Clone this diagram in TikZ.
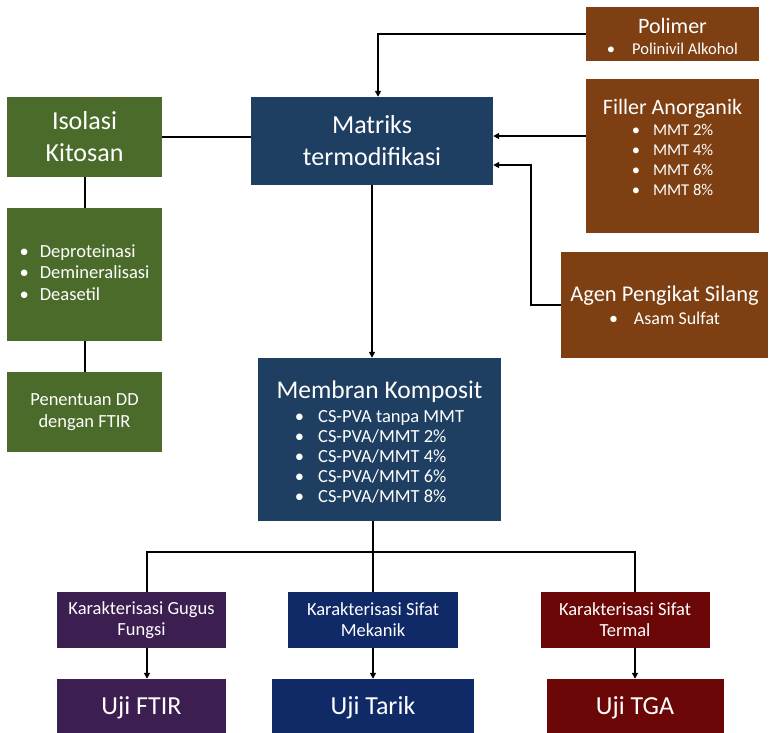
\documentclass[tikz,border=0pt]{standalone}
\usepackage{fontspec}
\setmainfont{Carlito}
\usepackage{xcolor}
\usepackage{tikz}
\usetikzlibrary{positioning, arrows.meta}
\definecolor{hijau}{HTML}{4A6B2A}
\definecolor{biru}{HTML}{1F3F62}
\definecolor{coklat}{HTML}{7E3F12}
\definecolor{ungu}{HTML}{3C1E50}
\definecolor{birutua}{HTML}{0F2A66}
\definecolor{merah}{HTML}{6B0707}
\newcommand{\Bt}[2][13pt]{\textbullet\hspace{#1}#2}
\newcommand{\Fs}[2]{\fontsize{#1}{#2}\selectfont}

\begin{document}
\begin{tikzpicture}[x=1pt, y=-1pt,
    kotak/.style={fill=#1, text=white, align=center, inner sep=0pt},
    garis/.style={line width=2pt},
    panah/.style={line width=2pt, -{Triangle[length=6pt,width=6pt]}}]
        \useasboundingbox (0,0) rectangle (770,732);
        \clip (0,0) rectangle (770,732);
        % Kotak hijau kiri
        \node[kotak=hijau, minimum width=155pt, minimum height=80pt, font=\Fs{26}{32}] (isolasi) at (84.5,137) {Isolasi\\Kitosan};
        \node[kotak=hijau, minimum width=155pt, minimum height=133pt, font=\Fs{18.5}{21.5}] (proses) at (84.5,274.5) {\begin{tabular}{@{}l@{}}\Bt[11pt]{Deproteinasi}\\ \Bt[11pt]{Demineralisasi}\\ \Bt[11pt]{Deasetil}\end{tabular}};
        \node[kotak=hijau, minimum width=155pt, minimum height=80pt, font=\Fs{18.5}{21.5}] (penentuan) at (84.5,412) {Penentuan DD\\dengan FTIR};
        % Matriks di tengah
        \node[kotak=biru, minimum width=242pt, minimum height=88pt, font=\Fs{26}{32}] (matriks) at (372,141) {Matriks\\termodifikasi};
        % Kotak coklat kanan
        \node[kotak=coklat, minimum width=173pt, minimum height=54pt, font=\Fs{22}{21}] (polimer) at (672.5,34) {\rule{0pt}{21pt}Polimer\\ \Fs{16.5}{21}\Bt[17pt]{Polinivil Alkohol}};
        \node[kotak=coklat, minimum width=173pt, minimum height=154pt, font=\Fs{22}{21}] (filler) at (672.5,156) {Filler Anorganik\\ \Fs{16.5}{20}\begin{tabular}[t]{@{}l@{}}\Bt{MMT 2\%}\\ \Bt{MMT 4\%}\\ \Bt{MMT 6\%}\\ \Bt{MMT 8\%}\rule[-18pt]{0pt}{1pt}\end{tabular}};
        \node[kotak=coklat, minimum width=207pt, minimum height=106pt, font=\Fs{22.5}{23}] (agen) at (664.5,305) {Agen Pengikat Silang\\ \Fs{18}{23}\Bt[16pt]{Asam Sulfat}};
        % Membran komposit
        \node[kotak=biru, minimum width=243pt, minimum height=163pt, font=\Fs{25.5}{24}] (membran) at (379.5,439.5) {\rule{0pt}{27pt}Membran Komposit\\ \Fs{18.5}{20}\begin{tabular}[t]{@{}l@{}}\Bt[14pt]{CS-PVA tanpa MMT}\\ \Bt[14pt]{CS-PVA/MMT 2\%}\\ \Bt[14pt]{CS-PVA/MMT 4\%}\\ \Bt[14pt]{CS-PVA/MMT 6\%}\\ \Bt[14pt]{CS-PVA/MMT 8\%}\end{tabular}};
        % Karakterisasi
        \node[kotak=ungu, minimum width=169pt, minimum height=56pt, font=\Fs{18.5}{21}] (gugus) at (141.5,620) {Karakterisasi Gugus\\Fungsi};
        \node[kotak=birutua, minimum width=170pt, minimum height=56pt, font=\Fs{18.5}{21}] (mekanik) at (373,620) {Karakterisasi Sifat\\Mekanik};
        \node[kotak=merah, minimum width=169pt, minimum height=56pt, font=\Fs{18.5}{21}] (termal) at (625,620) {Karakterisasi Sifat\\Termal};
        % Uji
        \node[kotak=ungu, minimum width=169pt, minimum height=58pt, font=\Fs{26}{28}] (ftir) at (141.5,708) {Uji FTIR};
        \node[kotak=birutua, minimum width=202pt, minimum height=58pt, font=\Fs{26}{28}] (tarik) at (373,708) {Uji Tarik};
        \node[kotak=merah, minimum width=177pt, minimum height=58pt, font=\Fs{26}{28}] (tga) at (635,708) {Uji TGA};
        % Garis kiri
        \draw[garis] (isolasi.east) -- (isolasi.east -| matriks.west);
        \draw[garis] (isolasi) -- (proses);
        \draw[garis] (proses) -- (penentuan);
        % Panah ke matriks
        \draw[panah] (polimer.west) -| ([xshift=6pt]matriks.north);
        \draw[panah] ([yshift=20pt]filler.west) -- ([yshift=20pt]filler.west -| matriks.east);
        \draw[panah] (agen.west) -- ++(-30,0) |- ([yshift=-24pt]matriks.east);
        \draw[panah] (matriks.south) -- (matriks.south |- membran.north);
        % Cabang bawah
        \coordinate (cabang) at (373,552);
        \draw[garis] (membran.south -| cabang) -- (mekanik.north);
        \draw[garis] ([xshift=5.5pt]gugus.north) |- (cabang) -| ([xshift=10pt]termal.north);
        \draw[panah] ([xshift=5.5pt]gugus.south) -- ([xshift=5.5pt]ftir.north);
        \draw[panah] (mekanik) -- (tarik);
        \draw[panah] (termal.south -| tga.north) -- (tga.north);
    \end{tikzpicture}
\end{document}
